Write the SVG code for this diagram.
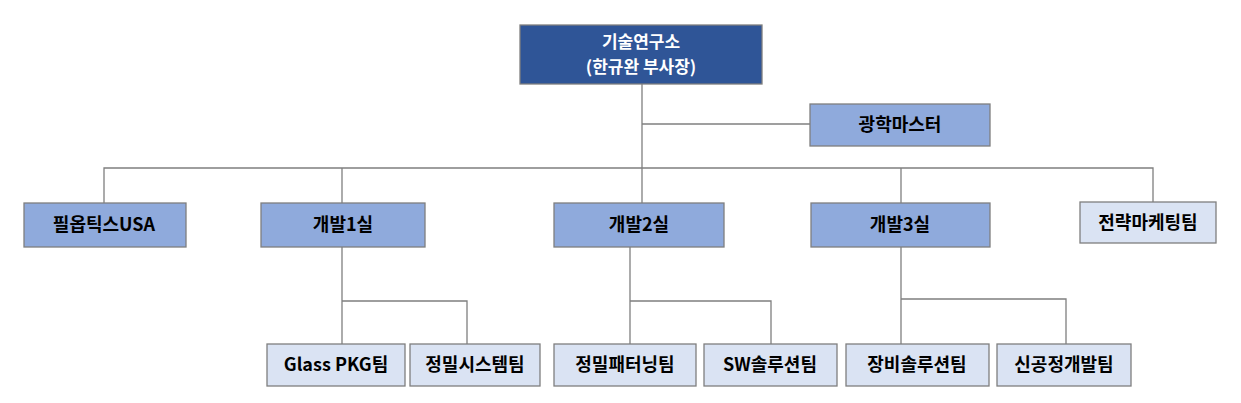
<svg xmlns="http://www.w3.org/2000/svg" width="1241" height="403" viewBox="0 0 1241 403">
<style>
.bg{fill:#FFFFFF}
.top{fill:#2F5597;stroke:#7F7F7F;stroke-width:1.3}
.mid{fill:#8FAADC;stroke:#7F7F7F;stroke-width:1.3}
.low{fill:#DAE3F3;stroke:#7F7F7F;stroke-width:1.3}
.conn{fill:none;stroke:#7F7F7F;stroke-width:1.3}
text{font-family:"Noto Sans CJK KR","Malgun Gothic",sans-serif;font-weight:bold;font-size:18px;text-anchor:middle;fill:#000000}
.wt{fill:#FFFFFF;font-size:17px}
</style>
<rect class="bg" x="0" y="0" width="1241" height="403"/>
<g id="connectors">
<path class="conn" d="M642 84 V203"/>
<path class="conn" d="M642 124 H810"/>
<path class="conn" d="M104 203 V168 H1153 V202"/>
<path class="conn" d="M342 168 V203"/>
<path class="conn" d="M901 168 V203"/>
<path class="conn" d="M342 247 V344"/>
<path class="conn" d="M342 301 H467 V344"/>
<path class="conn" d="M630 247 V344"/>
<path class="conn" d="M630 301 H771 V344"/>
<path class="conn" d="M901 247 V344"/>
<path class="conn" d="M901 299 H1066 V344"/>
</g>
<g id="n-root"><rect class="top" x="520" y="25" width="242" height="59"/><text class="wt" x="641" y="48">기술연구소</text><text class="wt" x="641" y="73">(한규완 부사장)</text></g>
<g id="n-optics"><rect class="mid" x="810" y="104" width="180" height="42"/><text x="900" y="131">광학마스터</text></g>
<g id="n-usa"><rect class="mid" x="24" y="203" width="162" height="44"/><text x="104" y="231">필옵틱스USA</text></g>
<g id="n-dev1"><rect class="mid" x="261" y="203" width="164" height="44"/><text x="343" y="231">개발1실</text></g>
<g id="n-dev2"><rect class="mid" x="554" y="203" width="170" height="44"/><text x="639" y="231">개발2실</text></g>
<g id="n-dev3"><rect class="mid" x="811" y="203" width="179" height="44"/><text x="900" y="231">개발3실</text></g>
<g id="n-mkt"><rect class="low" x="1080" y="202" width="136" height="41"/><text x="1148" y="229">전략마케팅팀</text></g>
<g id="n-glass"><rect class="low" x="267" y="344" width="138" height="42"/><text x="336" y="371">Glass PKG팀</text></g>
<g id="n-sys"><rect class="low" x="410" y="344" width="130" height="42"/><text x="475" y="371">정밀시스템팀</text></g>
<g id="n-pat"><rect class="low" x="554" y="344" width="142" height="42"/><text x="625" y="371">정밀패터닝팀</text></g>
<g id="n-sw"><rect class="low" x="704" y="344" width="133" height="42"/><text x="770" y="371">SW솔루션팀</text></g>
<g id="n-equip"><rect class="low" x="846" y="344" width="143" height="42"/><text x="917" y="371">장비솔루션팀</text></g>
<g id="n-proc"><rect class="low" x="997" y="344" width="134" height="42"/><text x="1064" y="371">신공정개발팀</text></g>
</svg>
